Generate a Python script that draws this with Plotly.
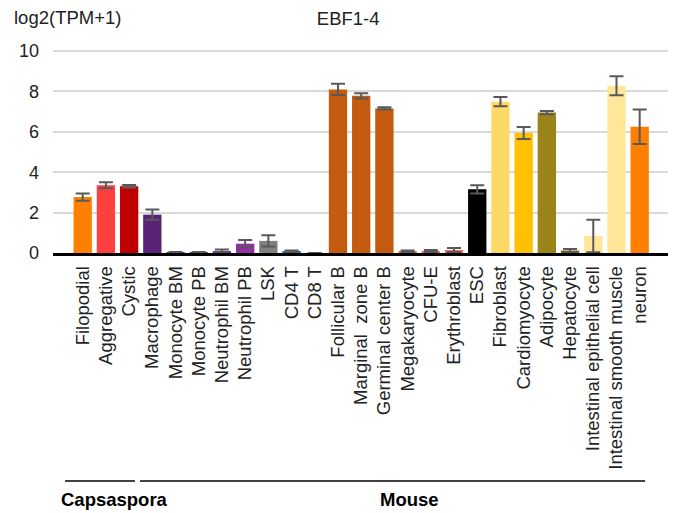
import plotly.graph_objects as go

categories = ["Filopodial", "Aggregative", "Cystic", "Macrophage", "Monocyte BM", "Monocyte PB",
              "Neutrophil BM", "Neutrophil PB", "LSK", "CD4 T", "CD8 T", "Follicular B",
              "Marginal  zone B", "Germinal center B", "Megakaryocyte", "CFU-E", "Erythroblast",
              "ESC", "Fibroblast", "Cardiomyocyte", "Adipocyte", "Hepatocyte",
              "Intestinal epithelial cell", "Intestinal smooth muscle", "neuron"]
values = [2.77, 3.35, 3.30, 1.90, 0.03, 0.03, 0.10, 0.46, 0.60, 0.08, 0.0, 8.10,
          7.78, 7.16, 0.07, 0.10, 0.15, 3.15, 7.49, 5.94, 6.95, 0.12, 0.84, 8.28, 6.25]
errors = [0.18, 0.15, 0.07, 0.25, 0.02, 0.02, 0.07, 0.18, 0.28, 0.04, None, 0.28,
          0.13, 0.05, 0.05, 0.05, 0.10, 0.20, 0.23, 0.30, 0.08, 0.08, 0.80, 0.47, 0.85]
colors = ["#FF8000", "#FF4040", "#C00000", "#5B2377", "#7030A0", "#7030A0",
          "#7030A0", "#922FA3", "#808080", "#0070C0", "#0070C0", "#C55A11",
          "#C55A11", "#C55A11", "#BF9000", "#FF6666", "#FF6666",
          "#000000", "#FFD966", "#FFC000", "#9A8419", "#7F6000", "#FFE699", "#FFE699", "#FF8000"]
y_ticks = [0, 2, 4, 6, 8, 10]
groups = ["Capsaspora", "Mouse"]
group_lines = [(-0.76, 2.25), (2.47, 24.23)]
group_label_x = [1.39, 14.06]

FONT = "Liberation Sans, Arial, sans-serif"
TXT = "#222222"
idx = list(range(len(categories)))

# page body has an 8px margin, so the figure is sized/offset to compensate
W, H = 671, 505
L, R, T, B = 45, 11, 42, 260
PW, PH = W - L - R, H - T - B

fig = go.Figure()
fig.add_trace(go.Bar(
    x=idx, y=values,
    marker=dict(color=colors, line=dict(width=0)),
    error_y=dict(type="data", array=errors, visible=True, color="#595959", thickness=2, width=7),
    width=0.79,
))

for name, (x0, x1), lx in zip(groups, group_lines, group_label_x):
    fig.add_shape(type="line", xref="x", yref="paper", x0=x0, x1=x1,
                  y0=(245 - 473) / PH, y1=(245 - 473) / PH,
                  line=dict(color="black", width=1.5))
    fig.add_annotation(x=lx, y=(245 - 491) / PH, xref="x", yref="paper", text="<b>%s</b>" % name,
                       showarrow=False, font=dict(family=FONT, size=18.5, color="black"),
                       xanchor="center", yanchor="middle")

fig.add_annotation(x=(4 - L) / PW, y=1 + (T - 10) / PH, xref="paper", yref="paper",
                   text="log2(TPM+1)", showarrow=False, xanchor="left", yanchor="middle",
                   font=dict(family=FONT, size=18.5, color=TXT))

fig.update_layout(
    width=W, height=H,
    margin=dict(l=L, r=R, t=T, b=B),
    paper_bgcolor="white", plot_bgcolor="white",
    showlegend=False,
    title=dict(text="EBF1-4", xref="paper", x=0.480, xanchor="center", y=1 - 11 / H, yanchor="middle",
               font=dict(family=FONT, size=18.5, color=TXT)),
    xaxis=dict(range=[-1.28, 25.22], tickmode="array", tickvals=idx, ticktext=categories,
               tickangle=-90, tickfont=dict(family=FONT, size=18.5, color=TXT),
               showline=True, linecolor="black", linewidth=2.5, ticks="", showgrid=False,
               zeroline=False, ticklabelstandoff=3, automargin=False),
    yaxis=dict(range=[0, 10.05], tickvals=y_ticks, showgrid=True, gridcolor="#D9D9D9", gridwidth=1.5,
               zeroline=False, tickfont=dict(family=FONT, size=18, color=TXT),
               ticklabelstandoff=13, showline=False, automargin=False),
)

fig.write_html("out.html")
